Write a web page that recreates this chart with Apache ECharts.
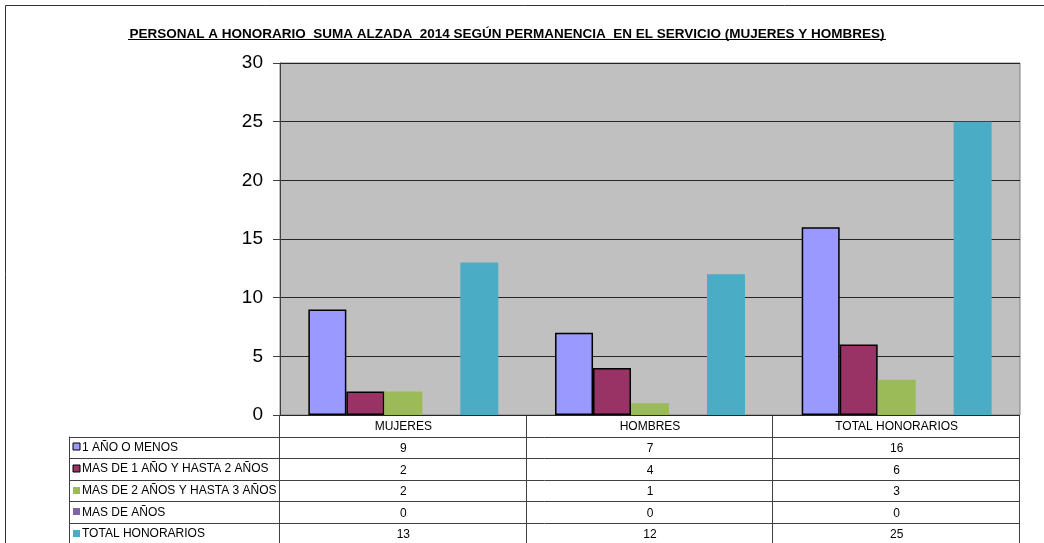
<!DOCTYPE html>
<html>
<head>
<meta charset="utf-8">
<script src="https://cdn.jsdelivr.net/npm/echarts@6/dist/echarts.min.js"></script>
<style>
  html, body { margin: 0; padding: 0; background: #fff; }
  #chart { width: 1044px; height: 543px; }
</style>
</head>
<body>
<div id="chart"></div>
<script>
// categorias y series
const categories = ['MUJERES', 'HOMBRES', 'TOTAL HONORARIOS'];
const seriesNames = ['1 AÑO O MENOS', 'MAS DE 1 AÑO Y HASTA 2 AÑOS', 'MAS DE 2 AÑOS Y HASTA 3 AÑOS', 'MAS DE AÑOS', 'TOTAL HONORARIOS'];
const unAnioOMenos = [9, 7, 16];
const masDe1Hasta2 = [2, 4, 6];
const masDe2Hasta3 = [2, 1, 3];
const masDeAnios = [0, 0, 0];
const totalHonorarios = [13, 12, 25];
const yTicks = [0, 5, 10, 15, 20, 25, 30];

const seriesValues = [unAnioOMenos, masDe1Hasta2, masDe2Hasta3, masDeAnios, totalHonorarios];
const colors = ['#9999FF', '#993366', '#9BBB59', '#8064A2', '#4BACC6'];
const bordered = [true, true, false, false, false];

const FONT = '"Liberation Sans", Arial, sans-serif';
const gridLeft = 280, gridRight = 1020, gridTop = 63, gridBottom = 415;
const rowH = 21.6;
const tableLeft = 69;
const lineColor = '#404040';

const chart = echarts.init(document.getElementById('chart'));

// ejes x: cabecera + una fila de la tabla por serie
const xAxes = [{
    type: 'category',
    data: categories,
    position: 'bottom',
    axisLine: { show: false },
    axisTick: { show: false },
    axisLabel: { margin: 6, fontSize: 12, color: '#000', fontFamily: FONT }
}];
seriesValues.forEach((vals, k) => {
    xAxes.push({
        type: 'category',
        data: vals.map(String),
        position: 'bottom',
        offset: rowH * (k + 1),
        axisLine: { show: false },
        axisTick: { show: false },
        axisLabel: { margin: 6, fontSize: 12, color: '#000', fontFamily: FONT }
    });
});

// lineas de la tabla y leyenda
const graphics = [];
const hLine = (x1, x2, y) => graphics.push({
    type: 'line', silent: true,
    shape: { x1: x1, y1: y, x2: x2, y2: y },
    style: { stroke: lineColor, lineWidth: 1 }
});
const vLine = (x, y1, y2) => graphics.push({
    type: 'line', silent: true,
    shape: { x1: x, y1: y1, x2: x, y2: y2 },
    style: { stroke: lineColor, lineWidth: 1 }
});
for (let k = 1; k <= seriesValues.length; k++) {
    hLine(tableLeft, gridRight, Math.round(gridBottom + rowH * k) + 0.5);
}
const colW = (gridRight - gridLeft) / categories.length;
for (let c = 0; c <= categories.length; c++) {
    vLine(Math.round(gridLeft + colW * c) - 0.5, gridBottom, 543);
}
vLine(tableLeft + 0.5, gridBottom + rowH, 543);

seriesNames.forEach((name, k) => {
    const cy = gridBottom + rowH * (k + 1.5);
    graphics.push({
        type: 'rect', silent: true,
        shape: { x: 73, y: Math.round(cy - 4), width: 7, height: 7 },
        style: { fill: colors[k], stroke: bordered[k] ? '#000' : null, lineWidth: bordered[k] ? 1 : 0 }
    });
    graphics.push({
        type: 'text', silent: true,
        x: 82, y: cy,
        style: { text: name, fontSize: 12, fontFamily: FONT, fill: '#000', verticalAlign: 'middle' }
    });
});

// marco exterior y subrayado del titulo
graphics.push({ type: 'line', silent: true, shape: { x1: 5.5, y1: 5.5, x2: 1044, y2: 5.5 }, style: { stroke: '#333', lineWidth: 1 } });
graphics.push({ type: 'line', silent: true, shape: { x1: 5.5, y1: 5.5, x2: 5.5, y2: 543 }, style: { stroke: '#333', lineWidth: 1 } });
graphics.push({ type: 'line', silent: true, shape: { x1: 128, y1: 39.5, x2: 886, y2: 39.5 }, style: { stroke: '#000', lineWidth: 1.2 } });

const option = {
    animation: false,
    title: {
        text: 'PERSONAL A HONORARIO  SUMA ALZADA  2014 SEGÚN PERMANENCIA  EN EL SERVICIO (MUJERES Y HOMBRES)',
        left: 502,
        textAlign: 'center',
        top: 22,
        textStyle: { fontSize: 13.5, fontWeight: 'bold', color: '#000', fontFamily: FONT }
    },
    grid: {
        left: gridLeft,
        right: 1044 - gridRight,
        top: gridTop,
        bottom: 543 - gridBottom,
        show: true,
        backgroundColor: '#C0C0C0',
        borderColor: '#808080',
        borderWidth: 1
    },
    xAxis: xAxes,
    yAxis: {
        type: 'value',
        min: yTicks[0],
        max: yTicks[yTicks.length - 1],
        interval: 5,
        axisLine: { show: true, lineStyle: { color: '#404040' } },
        axisTick: { show: true, length: 7, lineStyle: { color: '#404040' } },
        axisLabel: { margin: 17, fontSize: 19, color: '#000', fontFamily: FONT },
        splitLine: { lineStyle: { color: '#262626', width: 1 } }
    },
    series: seriesNames.map((name, k) => ({
        name: name,
        type: 'bar',
        xAxisIndex: 0,
        data: seriesValues[k],
        barGap: '0%',
        barCategoryGap: '23%',
        itemStyle: {
            color: colors[k],
            borderColor: bordered[k] ? '#000' : colors[k],
            borderWidth: bordered[k] ? 1.5 : 0
        }
    })),
    graphic: graphics
};
chart.setOption(option);
</script>
</body>
</html>
